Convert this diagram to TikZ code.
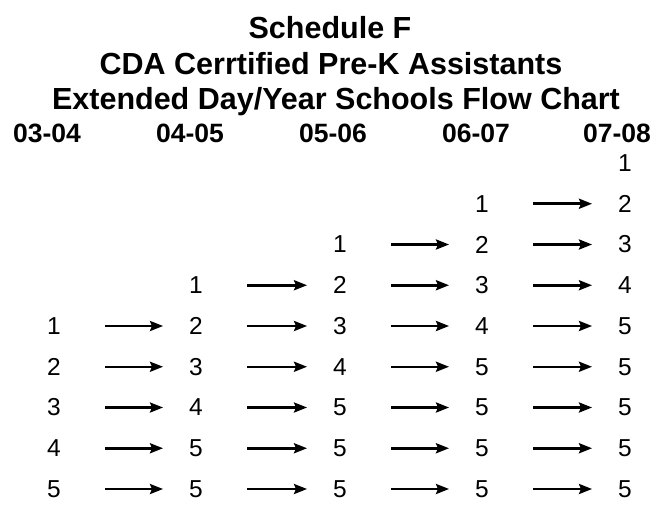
\documentclass[tikz,border=0pt]{standalone}
\usepackage{fontspec}
\setmainfont{Liberation Sans}
\usetikzlibrary{arrows.meta}
\tikzset{
  titletext/.style={anchor=base, inner sep=0pt, font=\fontsize{30.5}{32}\selectfont\bfseries},
  headtext/.style={anchor=center, inner sep=0pt, font=\fontsize{26.5}{28}\selectfont\bfseries},
  numtext/.style={anchor=center, inner sep=0pt, font=\fontsize{24.5}{26}\selectfont},
  arr/.style={line width=2.5pt, -{Stealth[length=13pt,width=10pt,inset=2pt]}, shorten <=51pt, shorten >=33pt}
}
\begin{document}
\begin{tikzpicture}[x=1pt,y=1pt]
\useasboundingbox (0,0) rectangle (660,509);
% titles
\node[titletext] (t1) at (330,{509-39}) {Schedule F};
\node[titletext] (t2) at (331,{509-75}) {CDA Cerrtified Pre-K Assistants};
\node[titletext] (t3) at (336,{509-110}) {Extended Day/Year Schools Flow Chart};
% headers
\node[headtext] (h1) at (47,{509-133}) {03-04};
\node[headtext] (h2) at (190,{509-133}) {04-05};
\node[headtext] (h3) at (333,{509-133}) {05-06};
\node[headtext] (h4) at (476,{509-133}) {06-07};
\node[headtext] (h5) at (617,{509-133}) {07-08};
% grid of numbers
\def\colx#1{\ifcase#1\or 54\or 196\or 340\or 482\or 625\fi}
\foreach \r/\vals/\start in {
  0/{1}/5,
  1/{1,2}/4,
  2/{1,2,3}/3,
  3/{1,2,3,4}/2,
  4/{1,2,3,4,5}/1,
  5/{2,3,4,5,5}/1,
  6/{3,4,5,5,5}/1,
  7/{4,5,5,5,5}/1,
  8/{5,5,5,5,5}/1} {
  \foreach \v [count=\i from \start] in \vals {
    \pgfmathsetmacro{\yy}{509-(163+40.75*\r)}
    \node[numtext] (n-\r-\i) at (\colx{\i},\yy) {\v};
    \ifnum\i>\start
      \pgfmathtruncatemacro{\prev}{\i-1}
      \draw[arr] (n-\r-\prev.center) -- (n-\r-\i.center);
    \fi
  }
}
\end{tikzpicture}
\end{document}
